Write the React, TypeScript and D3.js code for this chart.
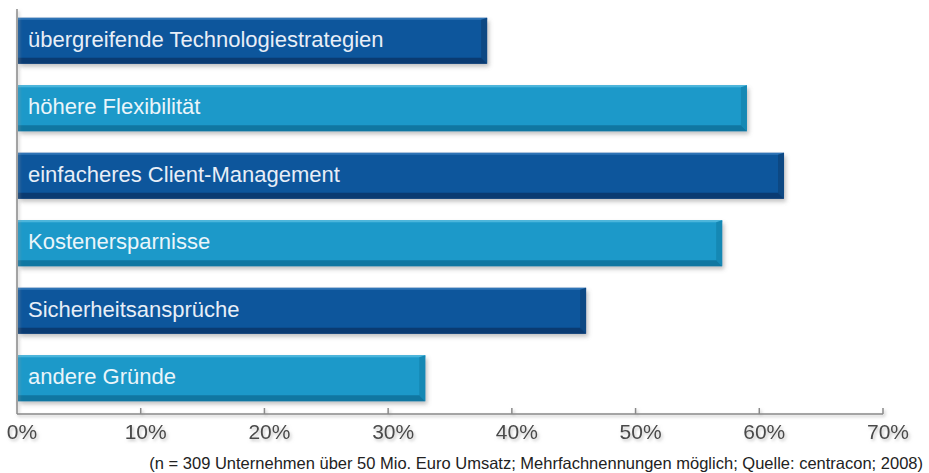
import * as d3 from "d3";

const categories = [
  "übergreifende Technologiestrategien",
  "höhere Flexibilität",
  "einfacheres Client-Management",
  "Kostenersparnisse",
  "Sicherheitsansprüche",
  "andere Gründe",
];
const values = [38, 59, 62, 57, 46, 33];
const tickValues = [0, 10, 20, 30, 40, 50, 60, 70];
const footnote =
  "(n = 309 Unternehmen über 50 Mio. Euro Umsatz; Mehrfachnennungen möglich; Quelle: centracon; 2008)";

const W = 929;
const H = 473;
const font = "'Liberation Sans', Arial, sans-serif";

const palette = [
  { main: "#11579c", top: "#2f74b6", bottom: "#0a3b72", side: "#0d4883", text: "#e8eef7" },
  { main: "#1b99c9", top: "#4bb6dc", bottom: "#1077a1", side: "#1588b4", text: "#eaf5fa" },
];

export default function App() {
  const x = d3.scaleLinear().domain([0, 70]).range([17, 883]);
  const y = d3
    .scaleBand<string>()
    .domain(categories)
    .range([7, 412])
    .paddingInner(0.32)
    .paddingOuter(0.16);
  const axisY = 414;
  const bw = y.bandwidth();

  return (
    <svg
      width={W}
      height={H}
      style={{ position: "absolute", left: 0, top: 0, background: "#fff" }}
    >
      <defs>
        <filter id="barShadow" x="-5%" y="-20%" width="115%" height="160%">
          <feDropShadow dx="2" dy="3" stdDeviation="2" floodColor="#777" floodOpacity="0.45" />
        </filter>
        <filter id="textShadow" x="-10%" y="-30%" width="130%" height="180%">
          <feDropShadow dx="1.5" dy="2" stdDeviation="1.5" floodColor="#999" floodOpacity="0.6" />
        </filter>
      </defs>

      {/* bars */}
      {categories.map((c, i) => {
        const p = palette[i % 2];
        const y0 = y(c) ?? 0;
        const x0 = x(0) + 1;
        const w = x(values[i]) - x0;
        return (
          <g key={c}>
            <rect x={x0} y={y0} width={w} height={bw} fill={p.main} filter="url(#barShadow)" />
            <rect x={x0} y={y0} width={w} height={2} fill={p.top} />
            <polygon
              points={`${x0 + w - 6},${y0 + 2} ${x0 + w},${y0} ${x0 + w},${y0 + bw} ${x0 + w - 6},${y0 + bw - 6}`}
              fill={p.side}
            />
            <polygon
              points={`${x0},${y0 + bw - 6} ${x0 + w - 6},${y0 + bw - 6} ${x0 + w},${y0 + bw} ${x0},${y0 + bw}`}
              fill={p.bottom}
            />
            <text
              x={x0 + 10}
              y={y0 + bw / 2 + 6}
              fill={p.text}
              fontFamily={font}
              fontSize={22}
            >
              {c}
            </text>
          </g>
        );
      })}

      {/* axes */}
      <g filter="url(#textShadow)" stroke="#8a8a8a" strokeWidth={1.5} fill="none">
        <line x1={x(0)} x2={x(0)} y1={9} y2={axisY} />
        <line x1={x(0)} x2={x(70)} y1={axisY} y2={axisY} />
        {tickValues.slice(1).map((t) => (
          <line key={t} x1={x(t)} x2={x(t)} y1={axisY} y2={axisY - 6} />
        ))}
      </g>

      {/* tick labels */}
      <g filter="url(#textShadow)">
        {tickValues.map((t) => (
          <text
            key={t}
            x={x(t) + 5}
            y={439}
            textAnchor="middle"
            fill="#4a4a4a"
            fontFamily={font}
            fontSize={21}
          >
            {`${t}%`}
          </text>
        ))}
      </g>

      <text
        x={923}
        y={469}
        textAnchor="end"
        fill="#222"
        fontFamily={font}
        fontSize={16.5}
      >
        {footnote}
      </text>
    </svg>
  );
}
